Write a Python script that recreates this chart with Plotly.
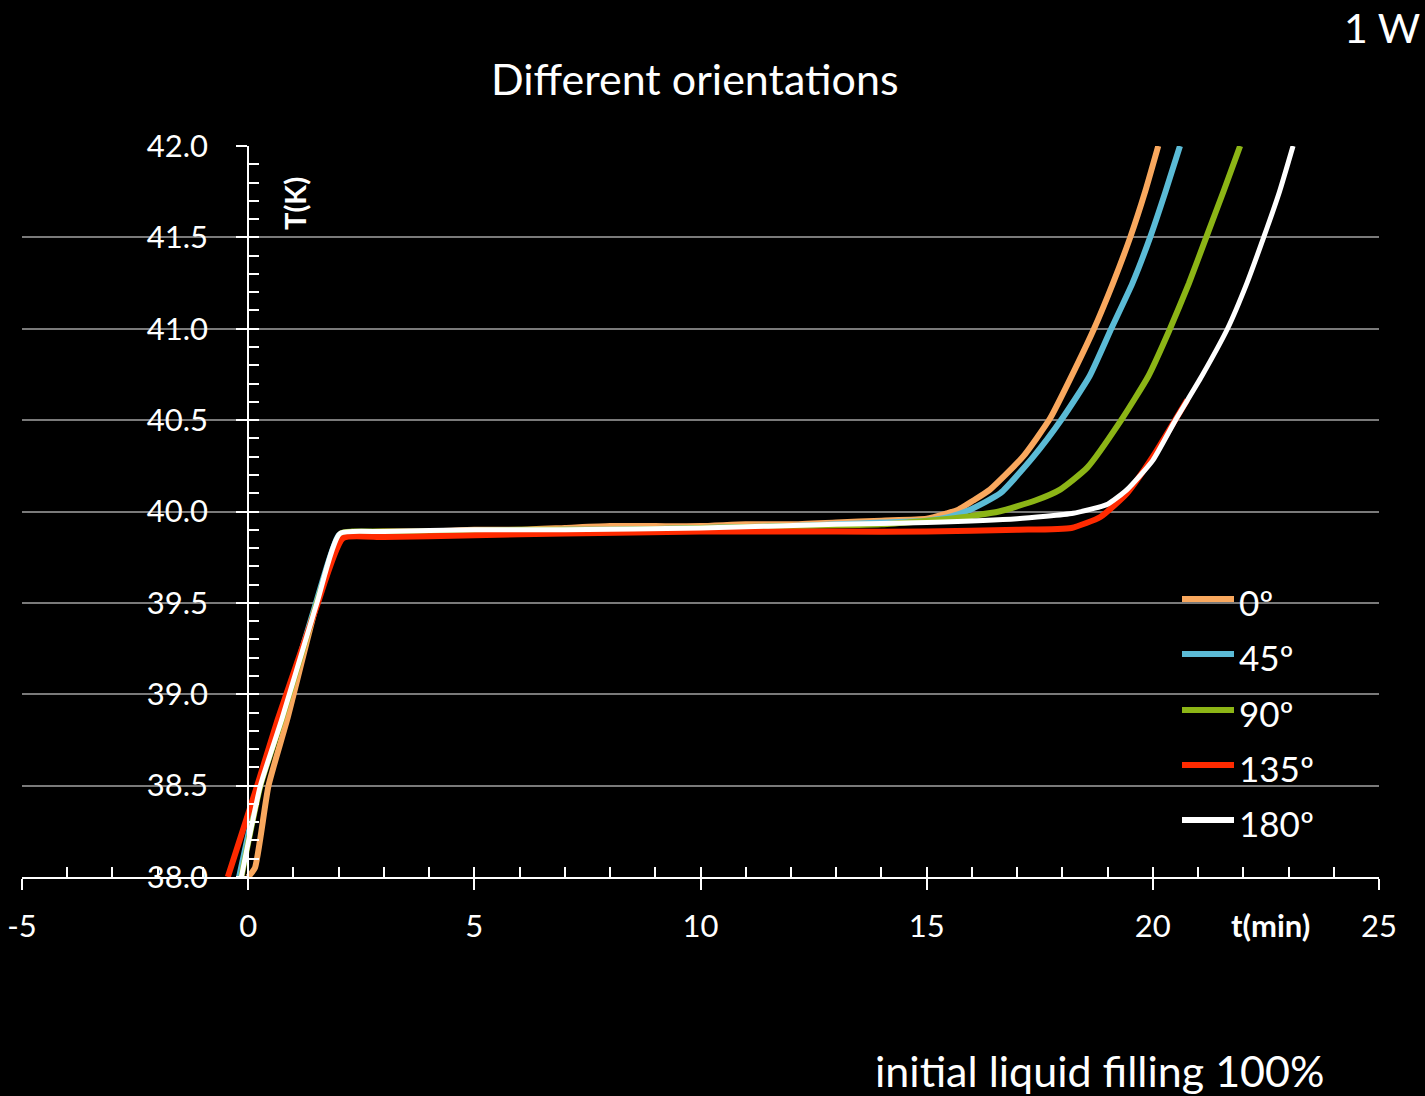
import plotly.graph_objects as go

# ---------------- data ----------------
names = ["0º", "45º", "90º", "135º", "180º"]
colors = ["#F9A85E", "#5BBBD6", "#8CB516", "#FF2A00", "#FFFFFF"]

t_0 = [0.0, 0.15, 0.45, 0.86, 1.5, 2.0, 2.3, 3, 4, 5, 6, 7, 8, 9, 10, 11, 12, 13, 14, 15,
       15.45, 15.7, 16.03, 16.4, 17.13, 17.73, 18.3, 18.7, 19.12, 19.5, 19.83, 20.12]
T_0 = [38.0, 38.05, 38.5, 38.86, 39.48, 39.86, 39.88, 39.89, 39.89, 39.9, 39.9, 39.91, 39.92, 39.92, 39.92, 39.93, 39.93, 39.94, 39.95, 39.96,
       39.99, 40.01, 40.06, 40.12, 40.30, 40.51, 40.79, 41.0, 41.25, 41.5, 41.75, 42.0]

t_45 = [-0.2, 0.25, 0.72, 1.5, 2.0, 2.3, 3, 4, 5, 6, 7, 8, 10, 12, 13, 14, 15, 15.5,
        15.96, 16.63, 17.36, 18.0, 18.6, 19.08, 19.55, 19.94, 20.28, 20.6]
T_45 = [38.0, 38.5, 38.86, 39.5, 39.87, 39.88, 39.88, 39.88, 39.89, 39.89, 39.9, 39.9, 39.91, 39.92, 39.93, 39.94, 39.95, 39.97,
        40.01, 40.10, 40.30, 40.51, 40.74, 41.0, 41.25, 41.5, 41.75, 42.0]

t_90 = [-0.15, 0.27, 0.74, 1.52, 2.05, 2.3, 3, 4, 6, 8, 10, 12, 14, 15.5,
        16.6, 17.4, 17.95, 18.55, 19.3, 19.9, 20.38, 20.8, 21.18, 21.56, 21.93]
T_90 = [38.0, 38.5, 38.86, 39.5, 39.88, 39.89, 39.89, 39.89, 39.9, 39.9, 39.91, 39.92, 39.93, 39.96,
        40.0, 40.06, 40.12, 40.24, 40.5, 40.74, 41.0, 41.25, 41.5, 41.75, 42.0]

t_135 = [-0.45, 0.2, 0.65, 1.5, 2.1, 3, 5, 7, 10, 13, 15, 17, 18.2, 18.84, 19.43, 20.0, 20.76]
T_135 = [38.0, 38.5, 38.86, 39.47, 39.855, 39.86, 39.87, 39.88, 39.89, 39.89, 39.89, 39.9, 39.91, 39.97, 40.1, 40.3, 40.61]

t_180 = [-0.15, 0.27, 0.74, 1.52, 2.03, 3, 5, 7, 10, 13, 15, 17, 18.24, 19.0, 19.43, 20.0,
         20.5, 21.08, 21.65, 22.08, 22.45, 22.8, 23.1]
T_180 = [38.0, 38.5, 38.86, 39.5, 39.88, 39.89, 39.9, 39.9, 39.91, 39.93, 39.94, 39.96, 39.99, 40.04, 40.12, 40.28,
         40.5, 40.74, 41.0, 41.25, 41.5, 41.75, 42.0]

series_t = [t_0, t_45, t_90, t_135, t_180]
series_T = [T_0, T_45, T_90, T_135, T_180]
widths = [6, 6, 6, 6, 5]

x_range = [-5, 25]
y_range = [38, 42]
x_ticks = [-5, 0, 5, 10, 15, 20, 25]
x_ticktext = ["-5", "0", "5", "10", "15", "20", "25"]

# ---------------- figure ----------------
W, H = 1425, 1096
ML, MR, MT, MB = 22, 46, 146, 219
PW, PH = W - ML - MR, H - MT - MB


def px(xp):
    return (xp - ML) / PW


def py(yp):
    return (H - MB - yp) / PH


FONT = "Lato"
fig = go.Figure()
for n, c, tx, ty, w in zip(names, colors, series_t, series_T, widths):
    fig.add_trace(go.Scatter(x=tx, y=ty, mode="lines", name=n,
                             line=dict(color=c, width=w, shape="spline", smoothing=0.5),
                             showlegend=False))

# helper trace so that the overlay axes (inner ticks) are drawn
fig.add_trace(go.Scatter(x=[None], y=[None], xaxis="x2", yaxis="y2",
                         showlegend=False, hoverinfo="skip"))

yfrac = (0 - x_range[0]) / (x_range[1] - x_range[0])

fig.update_layout(
    width=W, height=H,
    paper_bgcolor="black", plot_bgcolor="black",
    margin=dict(l=ML, r=MR, t=MT, b=MB, autoexpand=False),
    font=dict(family=FONT, color="white", size=30),
    showlegend=False,
    xaxis=dict(range=x_range, tickvals=x_ticks, ticktext=x_ticktext,
               showgrid=False, zeroline=False, automargin=False,
               showline=True, linecolor="white", linewidth=2,
               ticks="outside", ticklen=11, tickwidth=2, tickcolor="white",
               tickfont=dict(size=31, color="white", family=FONT),
               ticklabelstandoff=10, anchor="y"),
    yaxis=dict(range=y_range, dtick=0.5, tick0=38, tickformat=".1f",
               showgrid=True, gridcolor="#7a7a7a", gridwidth=2, zeroline=False,
               showline=True, linecolor="white", linewidth=2, automargin=False,
               ticks="outside", ticklen=11, tickwidth=2, tickcolor="white",
               tickfont=dict(size=31, color="white", family=FONT),
               ticklabelstandoff=22,
               anchor="free", position=yfrac, side="left"),
    xaxis2=dict(range=x_range, overlaying="x", anchor="y2", side="bottom",
                dtick=5, tick0=0, showgrid=False, zeroline=False, showline=False,
                ticks="inside", ticklen=10, tickwidth=2, tickcolor="white",
                showticklabels=False, automargin=False,
                minor=dict(dtick=1, tick0=0, ticks="inside", ticklen=10, tickwidth=2,
                           tickcolor="white", showgrid=False)),
    yaxis2=dict(range=y_range, overlaying="y", anchor="free", position=yfrac, side="left",
                dtick=0.5, tick0=38, showgrid=False, zeroline=False, showline=False,
                ticks="inside", ticklen=10, tickwidth=2, tickcolor="white",
                showticklabels=False, automargin=False,
                minor=dict(dtick=0.1, tick0=38, ticks="inside", ticklen=10, tickwidth=2,
                           tickcolor="white", showgrid=False)),
)

ann = [
    dict(text="Different orientations", x=px(695), y=py(78), size=43),
    dict(text="1 W", x=px(1382), y=py(28), size=41),
    dict(text="initial liquid filling 100%", x=px(1099), y=py(1070), size=43),
    dict(text="<b>t(min)</b>", x=px(1270), y=py(925), size=31),
]
for a in ann:
    fig.add_annotation(text=a["text"], x=a["x"], y=a["y"], xref="paper", yref="paper",
                       showarrow=False, xanchor="center", yanchor="middle",
                       font=dict(size=a["size"], color="white", family=FONT))
fig.add_annotation(text="<b>T(K)</b>", x=px(295), y=py(204), xref="paper", yref="paper",
                   showarrow=False, textangle=-90, xanchor="center", yanchor="middle",
                   font=dict(size=29, color="white", family=FONT))

# legend (manual, to match line sample length and spacing)
rows = [599, 654, 710, 765, 820]
for n, c, r in zip(names, colors, rows):
    fig.add_shape(type="line", xref="paper", yref="paper",
                  x0=px(1182), x1=px(1234), y0=py(r), y1=py(r),
                  line=dict(color=c, width=6))
    fig.add_annotation(text=n, x=px(1237), y=py(r + 3), xref="paper", yref="paper",
                       showarrow=False, xanchor="left", yanchor="middle",
                       font=dict(size=35, color="white", family=FONT))

fig.write_html("out.html")
